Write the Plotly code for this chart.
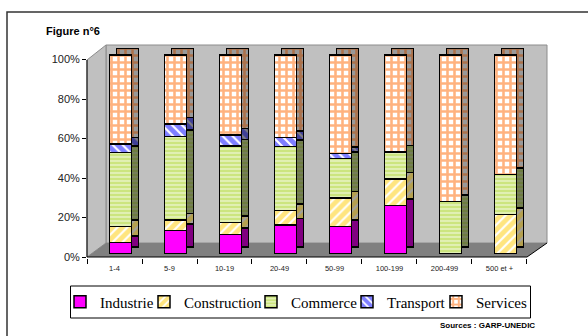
import plotly.graph_objects as go

categories = ["1-4", "5-9", "10-19", "20-49", "50-99", "100-199", "200-499", "500 et +"]
industrie = [5.5, 11.4, 9.6, 14.3, 13.4, 24.0, 0, 0]
construction = [7.9, 5.4, 6.0, 7.4, 14.6, 13.5, 0, 19.5]
commerce = [37.5, 42.0, 38.5, 32.1, 19.9, 13.6, 26.0, 20.3]
transport = [4.1, 6.4, 5.6, 4.7, 2.5, 0, 0, 0]
services = [45.0, 34.8, 40.3, 41.5, 49.6, 48.9, 74.0, 60.2]
y_ticks = [0, 20, 40, 60, 80, 100]
y_ticktext = ["0%", "20%", "40%", "60%", "80%", "100%"]

series = [
    ("Industrie", industrie,
     dict(color="#FF00FF", pattern=dict(shape="")),
     dict(color="#800080", pattern=dict(shape=""))),
    ("Construction", construction,
     dict(color="#FFFFFF", pattern=dict(shape="/", fgcolor="#FFCC00", bgcolor="#FFFFFF", size=7, solidity=0.7)),
     dict(color="#A0A0A0", pattern=dict(shape="/", fgcolor="#C8A000", bgcolor="#A0A0A0", size=7, solidity=0.7))),
    ("Commerce", commerce,
     dict(color="#FFFFFF", pattern=dict(shape="-", fgcolor="#99CC00", bgcolor="#FFFFFF", size=4, solidity=0.8)),
     dict(color="#808080", pattern=dict(shape="-", fgcolor="#5C7A00", bgcolor="#808080", size=4, solidity=0.8))),
    ("Transport", transport,
     dict(color="#FFFFFF", pattern=dict(shape="\\", fgcolor="#0000FF", bgcolor="#FFFFFF", size=7, solidity=0.7)),
     dict(color="#808080", pattern=dict(shape="\\", fgcolor="#0000B0", bgcolor="#808080", size=7, solidity=0.7))),
    ("Services", services,
     dict(color="#FFFFFF", pattern=dict(shape="+", fgcolor="#FF6600", bgcolor="#FFFFFF", size=7, solidity=0.6)),
     dict(color="#999999", pattern=dict(shape="+", fgcolor="#C04C00", bgcolor="#999999", size=7, solidity=0.6))),
]
legend_names = ["legend", "legend2", "legend3", "legend4", "legend5"]

idx = list(range(len(categories)))
fig = go.Figure()

# dummy invisible trace to hold the tick axes
fig.add_trace(go.Scatter(x=[0], y=[0], mode="markers", marker=dict(opacity=0),
                         showlegend=False, hoverinfo="skip", xaxis="x", yaxis="y"))

# side/top faces (shifted)
for name, vals, front, side in series:
    fig.add_trace(go.Bar(x=idx, y=vals, width=0.4, name=name, showlegend=False,
                         marker=dict(line=dict(color="black", width=1.5), **side),
                         xaxis="x2", yaxis="y2", hoverinfo="skip"))
# front faces
for (name, vals, front, side), lg in zip(series, legend_names):
    fig.add_trace(go.Bar(x=idx, y=vals, width=0.4, name=name, legend=lg,
                         marker=dict(line=dict(color="black", width=1.5), **front),
                         xaxis="x3", yaxis="y3"))

L, T, W, H = 87, 45, 460, 213
def fx(px):
    return (px - L) / W
def fy(py):
    return (T + H - py) / H
def path(pts, close=True):
    s = " ".join(("M" if i == 0 else "L") + f" {fx(x):.5f},{fy(y):.5f}" for i, (x, y) in enumerate(pts))
    return s + (" Z" if close else "")

shapes = [
    dict(type="rect", xref="paper", yref="paper", x0=fx(106), x1=fx(547), y0=fy(243), y1=fy(45),
         fillcolor="#C0C0C0", line=dict(color="#8C8C8C", width=1), layer="below"),
    dict(type="path", xref="paper", yref="paper", path=path([(87, 257), (87, 60), (106, 45), (106, 243)]),
         fillcolor="#C0C0C0", line=dict(color="#8C8C8C", width=1), layer="below"),
    dict(type="path", xref="paper", yref="paper", path=path([(87, 257), (106, 243), (547, 243), (527, 257)]),
         fillcolor="#808080", line=dict(width=0), layer="below"),
    dict(type="path", xref="paper", yref="paper", path=path([(87, 60), (87, 257), (527, 257), (547, 243)], close=False),
         line=dict(color="black", width=1), layer="above"),
    dict(type="rect", xref="paper", yref="paper", x0=fx(7), x1=fx(620), y0=fy(360), y1=fy(12),
         line=dict(color="#333333", width=1.5), fillcolor="rgba(0,0,0,0)", layer="above"),
    # legend box
    dict(type="rect", xref="paper", yref="paper", x0=fx(70.5), x1=fx(530.5), y0=fy(318), y1=fy(286),
         line=dict(color="black", width=1), fillcolor="white", layer="above"),
]

symbol_left = [74, 158, 265, 361, 450]
legend_layout = {}
for lg, sx in zip(legend_names, symbol_left):
    legend_layout[lg] = dict(orientation="h", x=fx(sx - 14), y=fy(302), xanchor="left", yanchor="middle",
                             font=dict(family="Liberation Serif", size=15, color="black"),
                             borderwidth=0, bgcolor="rgba(0,0,0,0)", itemclick=False, itemdoubleclick=False)

fig.update_layout(
    width=588, height=336,
    margin=dict(l=L, r=588 - L - W, t=T, b=336 - T - H, autoexpand=False),
    paper_bgcolor="white", plot_bgcolor="white",
    barmode="stack",
    showlegend=True,
    xaxis=dict(range=[-0.5, 7.864], tickvals=idx, ticktext=categories, ticks="",
               tickfont=dict(family="Liberation Sans", size=7.5, color="#222"), ticklabelstandoff=4,
               showline=False, showgrid=False, zeroline=False, fixedrange=True,
               minor=dict(tick0=-0.5, dtick=1, ticks="outside", ticklen=5, tickcolor="black", showgrid=False)),
    yaxis=dict(range=[-0.506, 107.34], tickvals=y_ticks, ticktext=y_ticktext, ticks="outside",
               ticklen=4, tickcolor="black",
               tickfont=dict(family="Liberation Sans", size=11, color="#222"),
               showline=False, showgrid=False, zeroline=False, fixedrange=True),
    xaxis2=dict(overlaying="x", range=[-0.736, 7.627], visible=False, fixedrange=True),
    yaxis2=dict(overlaying="y", range=[-5.65, 101.77], visible=False, fixedrange=True),
    xaxis3=dict(overlaying="x", range=[-0.609, 7.755], visible=False, fixedrange=True),
    yaxis3=dict(overlaying="y", range=[-2.37, 105.04], visible=False, fixedrange=True),
    shapes=shapes,
    annotations=[
        dict(text="<b>Figure n°6</b>", xref="paper", yref="paper", x=fx(44), y=fy(31),
             xanchor="left", yanchor="middle", showarrow=False,
             font=dict(family="Liberation Sans", size=11, color="black")),
        dict(text="<b>Sources : GARP-UNEDIC</b>", xref="paper", yref="paper", x=fx(537), y=fy(325),
             xanchor="right", yanchor="middle", showarrow=False,
             font=dict(family="Liberation Sans", size=8, color="black")),
    ],
    **legend_layout,
)

fig.write_html("out.html")
